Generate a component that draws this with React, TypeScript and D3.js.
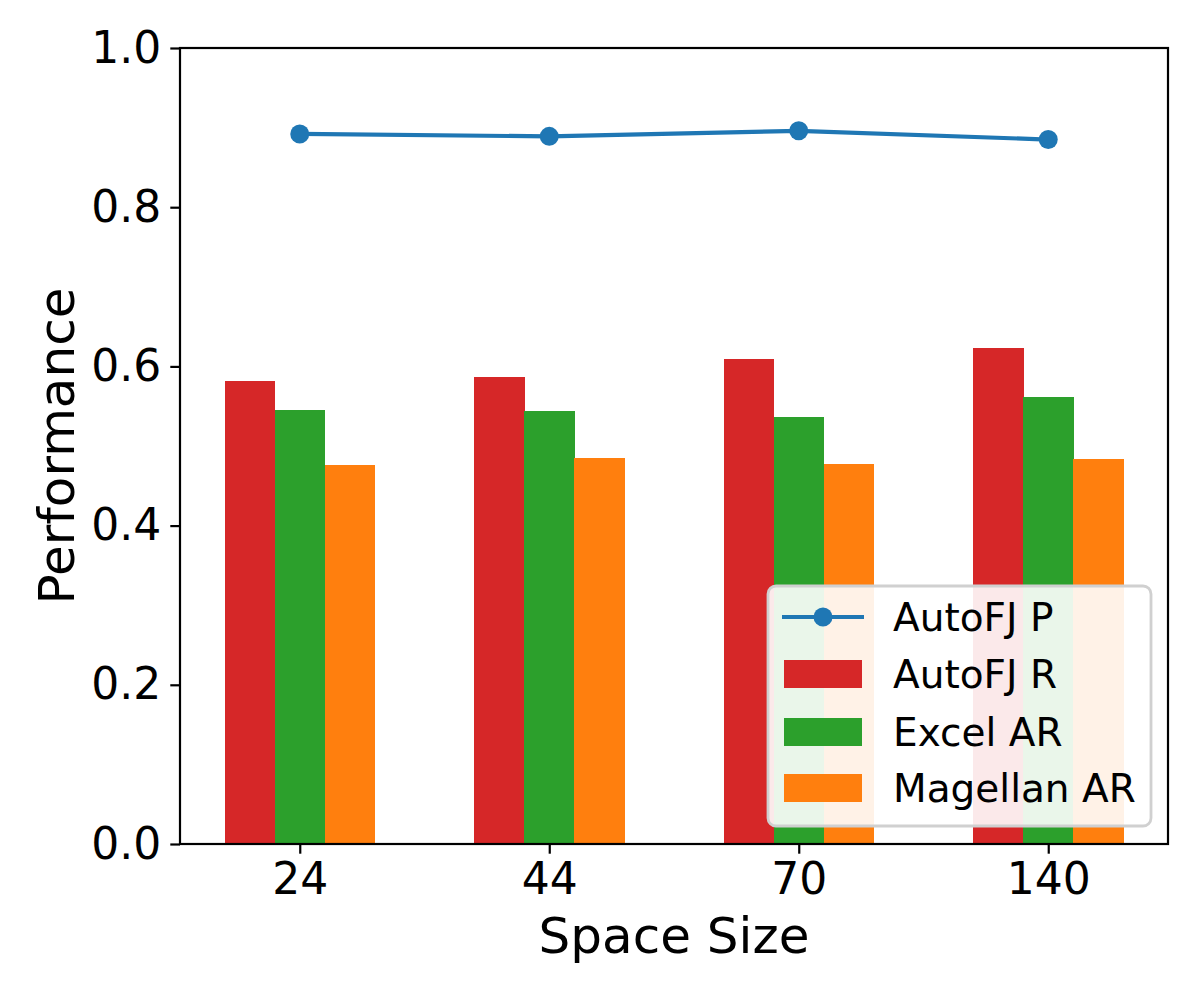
import React from 'react';
import * as d3 from 'd3';

const spaceSizes = ['24', '44', '70', '140'];
const autofjP = [0.892, 0.889, 0.896, 0.885];
const autofjR = [0.582, 0.587, 0.609, 0.623];
const excelAR = [0.545, 0.544, 0.536, 0.562];
const magellanAR = [0.476, 0.485, 0.477, 0.484];
const yTicks = [0, 0.2, 0.4, 0.6, 0.8, 1.0];

const barSeries = [
  { name: 'AutoFJ R', values: autofjR, color: '#d62728' },
  { name: 'Excel AR', values: excelAR, color: '#2ca02c' },
  { name: 'Magellan AR', values: magellanAR, color: '#ff7f0e' },
];
const lineColor = '#1f77b4';

const App: React.FC = () => {
  const svgRef = React.useRef<SVGSVGElement | null>(null);
  const width = 1200;
  const height = 1000;

  React.useEffect(() => {
    const margin = { top: 48, right: 32, bottom: 156, left: 180 };
    const innerWidth = width - margin.left - margin.right;
    const innerHeight = height - margin.top - margin.bottom;
    const font = 'DejaVu Sans, sans-serif';
    const barWidth = 0.2;

    const svg = d3.select(svgRef.current);
    svg.selectAll('*').remove();
    svg.append('rect').attr('width', width).attr('height', height).attr('fill', '#fff');

    const g = svg.append('g').attr('transform', `translate(${margin.left},${margin.top})`);

    // matplotlib-like 5% margins around bars spanning -0.3..3.3
    const x = d3.scaleLinear().domain([-0.48, 3.48]).range([0, innerWidth]);
    const y = d3.scaleLinear().domain([0, 1]).range([innerHeight, 0]);

    barSeries.forEach((s, si) => {
      g.append('g')
        .attr('shape-rendering', 'crispEdges')
        .selectAll('rect')
        .data(s.values)
        .join('rect')
        .attr('x', (_, i) => x(i + (si - 1) * barWidth - barWidth / 2))
        .attr('width', x(barWidth) - x(0) + 0.5)
        .attr('y', (d) => y(d))
        .attr('height', (d) => innerHeight - y(d))
        .attr('fill', s.color);
    });

    const line = d3
      .line<number>()
      .x((_, i) => x(i))
      .y((d) => y(d));
    g.append('path')
      .datum(autofjP)
      .attr('d', line)
      .attr('fill', 'none')
      .attr('stroke', lineColor)
      .attr('stroke-width', 4.2);
    g.append('g')
      .selectAll('circle')
      .data(autofjP)
      .join('circle')
      .attr('cx', (_, i) => x(i))
      .attr('cy', (d) => y(d))
      .attr('r', 9.5)
      .attr('fill', lineColor);

    // axes
    const xAxis = d3
      .axisBottom(x)
      .tickValues(spaceSizes.map((_, i) => i))
      .tickFormat((d) => spaceSizes[d as number])
      .tickSize(9.7)
      .tickPadding(9);
    const xg = g.append('g').attr('transform', `translate(0,${innerHeight})`).call(xAxis);
    xg.select('.domain').remove();
    xg.selectAll('line').attr('stroke', '#000').attr('stroke-width', 2.2);
    xg.selectAll('text').attr('font-size', 44).attr('font-family', font).attr('fill', '#000');

    const yAxis = d3
      .axisLeft(y)
      .tickValues(yTicks)
      .tickFormat(d3.format('.1f'))
      .tickSize(9.7)
      .tickPadding(9);
    const yg = g.append('g').call(yAxis);
    yg.select('.domain').remove();
    yg.selectAll('line').attr('stroke', '#000').attr('stroke-width', 2.2);
    yg.selectAll('text').attr('font-size', 44).attr('font-family', font).attr('fill', '#000');

    g.append('rect')
      .attr('width', innerWidth)
      .attr('height', innerHeight)
      .attr('fill', 'none')
      .attr('stroke', '#000')
      .attr('stroke-width', 2.2);

    // axis labels
    svg.append('text')
      .attr('x', margin.left + innerWidth / 2)
      .attr('y', 953)
      .attr('text-anchor', 'middle')
      .attr('font-size', 50)
      .attr('font-family', font)
      .text('Space Size');
    svg.append('text')
      .attr('transform', `translate(74,${margin.top + innerHeight / 2}) rotate(-90)`)
      .attr('text-anchor', 'middle')
      .attr('font-size', 50)
      .attr('font-family', font)
      .text('Performance');

    // legend
    const lg = svg.append('g').attr('transform', 'translate(768,586)');
    lg.append('rect')
      .attr('width', 383)
      .attr('height', 240)
      .attr('rx', 8)
      .attr('fill', 'rgba(255,255,255,0.9)')
      .attr('stroke', '#d0d0d0')
      .attr('stroke-width', 2.8);
    const rowY = [31, 88, 146, 202];
    lg.append('line')
      .attr('x1', 14)
      .attr('x2', 96)
      .attr('y1', rowY[0])
      .attr('y2', rowY[0])
      .attr('stroke', lineColor)
      .attr('stroke-width', 4.2);
    lg.append('circle').attr('cx', 55).attr('cy', rowY[0]).attr('r', 9.5).attr('fill', lineColor);
    lg.append('text')
      .attr('x', 125)
      .attr('y', rowY[0] + 14)
      .attr('font-size', 39)
      .attr('font-family', font)
      .text('AutoFJ P');
    barSeries.forEach((s, i) => {
      const cy = rowY[i + 1];
      lg.append('rect')
        .attr('x', 16)
        .attr('y', cy - 14)
        .attr('width', 78)
        .attr('height', 28)
        .attr('fill', s.color);
      lg.append('text')
        .attr('x', 125)
        .attr('y', cy + 14)
        .attr('font-size', 39)
        .attr('font-family', font)
        .text(s.name);
    });
  }, []);

  return (
    <svg
      ref={svgRef}
      width={width}
      height={height}
      style={{ position: 'absolute', left: 0, top: 0 }}
    />
  );
};

export default App;
